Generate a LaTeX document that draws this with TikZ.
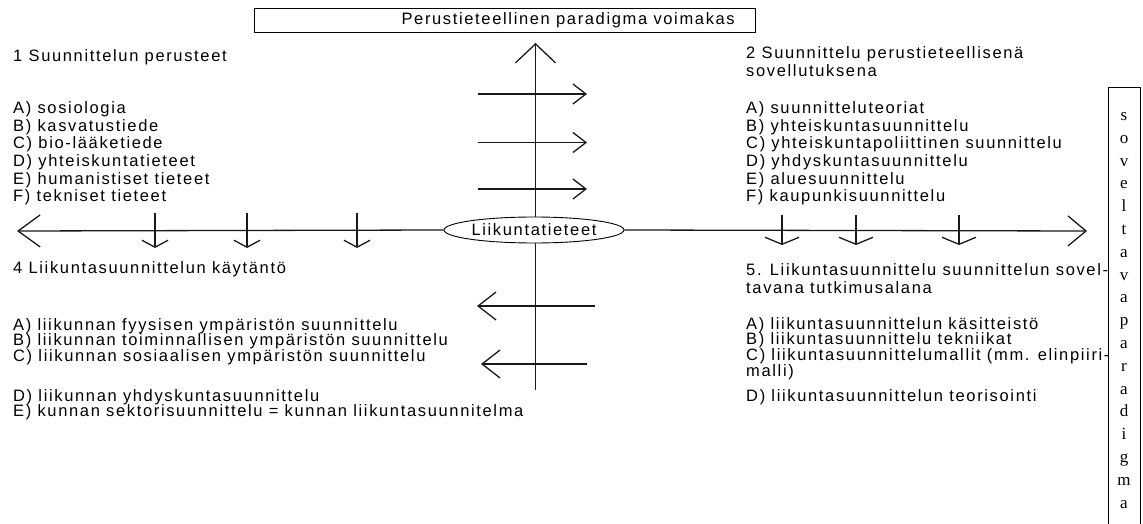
\documentclass[tikz,border=0pt]{standalone}
\usepackage{fontspec}
\setmainfont{Liberation Sans}[LetterSpace=10]
\newfontfamily\vfont{Liberation Serif}
\usetikzlibrary{arrows.meta,shapes.geometric}
\begin{document}
\begin{tikzpicture}[x=1pt,y=-1pt,
  txt/.style={anchor=base west, inner sep=0pt, font=\fontsize{16.5}{17.5}\selectfont},
  ln/.style={line width=1.3pt, draw=black!90},
  vl/.style={anchor=base, inner sep=0pt, font=\vfont\fontsize{17}{17}\selectfont},
  upT/.tip={Straight Barb[length=19pt,width=40pt]},
  leftT/.tip={Straight Barb[length=22pt,width=32pt]},
  rightT/.tip={Straight Barb[length=18pt,width=30pt]},
  smallR/.tip={Straight Barb[length=13pt,width=20pt]},
  smallL/.tip={Straight Barb[length=18pt,width=28pt]},
  downA/.tip={Straight Barb[length=7pt,width=26pt]},
  downB/.tip={Straight Barb[length=7pt,width=34pt]}]
\useasboundingbox (0,0) rectangle (1143,524);
\clip (0,0) rectangle (1143,524);
\fill[white] (0,0) rectangle (1143,524);

% top box
\node[draw, line width=0.9pt, minimum width=501pt, minimum height=24pt, inner sep=0pt] (top) at (504.5,20) {};
\node[txt, anchor=base east] (toptxt) at (735,25) {Perustieteellinen paradigma voimakas};

% central ellipse and axes
\node[ellipse, draw, line width=0.9pt, minimum width=180pt, minimum height=26pt, inner sep=0pt,
      font=\fontsize{16.5}{17.5}\selectfont] (ell) at (534,230) {Liikuntatieteet};
\coordinate (hl) at (17,231);
\coordinate (hr) at (1087,231);
\coordinate (vt) at (535.5,43);
\coordinate (vb) at (535.5,390);
\draw[ln,-leftT] (ell.west) -- (hl);
\draw[ln,-rightT] (ell.east) -- (hr);
\draw[ln,-upT] (vt |- ell.north) -- (vt);
\draw[ln] (vb |- ell.south) -- (vb);

% right arrows on upper axis
\foreach \y [count=\i] in {94,142.5,189} {
  \coordinate (ra\i s) at (478,\y);
  \coordinate (ra\i e) at (587,\y);
  \draw[ln,-smallR] (ra\i s) -- (ra\i e);
}
% left arrows on lower axis
\coordinate (la1s) at (595,306); \coordinate (la1e) at (477,306);
\coordinate (la2s) at (587,364); \coordinate (la2e) at (481,364);
\draw[ln,-smallL] (la1s) -- (la1e);
\draw[ln,-smallL] (la2s) -- (la2e);

% down arrows on horizontal axis
\foreach \x [count=\i] in {155,247,357} {
  \coordinate (dl\i s) at (\x,213);
  \coordinate (dl\i e) at (\x,248);
  \draw[ln,-downA] (dl\i s) -- (dl\i e);
}
\foreach \x [count=\i] in {782,856,959} {
  \coordinate (dr\i s) at (\x,215);
  \coordinate (dr\i e) at (\x,245);
  \draw[ln,-downB] (dr\i s) -- (dr\i e);
}

% block 1
\node[txt] (b1t) at (13,62) {1 Suunnittelun perusteet};
\node[txt] (b1a) at (13,114) {A) sosiologia};
\node[txt] (b1b) at (13,131.5) {B) kasvatustiede};
\node[txt] (b1c) at (13,149) {C) bio-lääketiede};
\node[txt] (b1d) at (13,166.5) {D) yhteiskuntatieteet};
\node[txt] (b1e) at (13,184) {E) humanistiset tieteet};
\node[txt] (b1f) at (13,201.5) {F) tekniset tieteet};

% block 2
\node[txt] (b2t) at (746,59) {2 Suunnittelu perustieteellisenä};
\node[txt] (b2u) at (746,77) {sovellutuksena};
\node[txt] (b2a) at (746,114) {A) suunnitteluteoriat};
\node[txt] (b2b) at (746,131.5) {B) yhteiskuntasuunnittelu};
\node[txt] (b2c) at (746,149) {C) yhteiskuntapoliittinen suunnittelu};
\node[txt] (b2d) at (746,166.5) {D) yhdyskuntasuunnittelu};
\node[txt] (b2e) at (746,184) {E) aluesuunnittelu};
\node[txt] (b2f) at (746,201.5) {F) kaupunkisuunnittelu};

% block 4
\node[txt] (b4t) at (13,273) {4 Liikuntasuunnittelun käytäntö};
\node[txt] (b4a) at (13,330) {A) liikunnan fyysisen ympäristön suunnittelu};
\node[txt] (b4b) at (13,345.5) {B) liikunnan toiminnallisen ympäristön suunnittelu};
\node[txt] (b4c) at (13,361) {C) liikunnan sosiaalisen ympäristön suunnittelu};
\node[txt] (b4d) at (13,401) {D) liikunnan yhdyskuntasuunnittelu};
\node[txt] (b4e) at (13,416.5) {E) kunnan sektorisuunnittelu = kunnan liikuntasuunnitelma};

% block 5
\node[txt] (b5t) at (746,275) {5. Liikuntasuunnittelu suunnittelun sovel-};
\node[txt] (b5u) at (746,293) {tavana tutkimusalana};
\node[txt] (b5a) at (746,329) {A) liikuntasuunnittelun käsitteistö};
\node[txt] (b5b) at (746,344.5) {B) liikuntasuunnittelu tekniikat};
\node[txt] (b5c) at (746,360) {C) liikuntasuunnittelumallit (mm. elinpiiri-};
\node[txt] (b5m) at (746,376) {malli)};
\node[txt] (b5d) at (746,401) {D) liikuntasuunnittelun teorisointi};

% vertical box
\node[draw, line width=1.2pt, minimum width=32pt, minimum height=470pt, inner sep=0pt,
      anchor=north west] (vbox) at (1108,87) {};
\foreach \l [count=\i] in {s,o,v,e,l,t,a,v,a,p,a,r,a,d,i,g,m,a}
  \node[vl] (vl\i) at (1124,{120.5+(\i-1)*22.8}) {\l};
\end{tikzpicture}
\end{document}
